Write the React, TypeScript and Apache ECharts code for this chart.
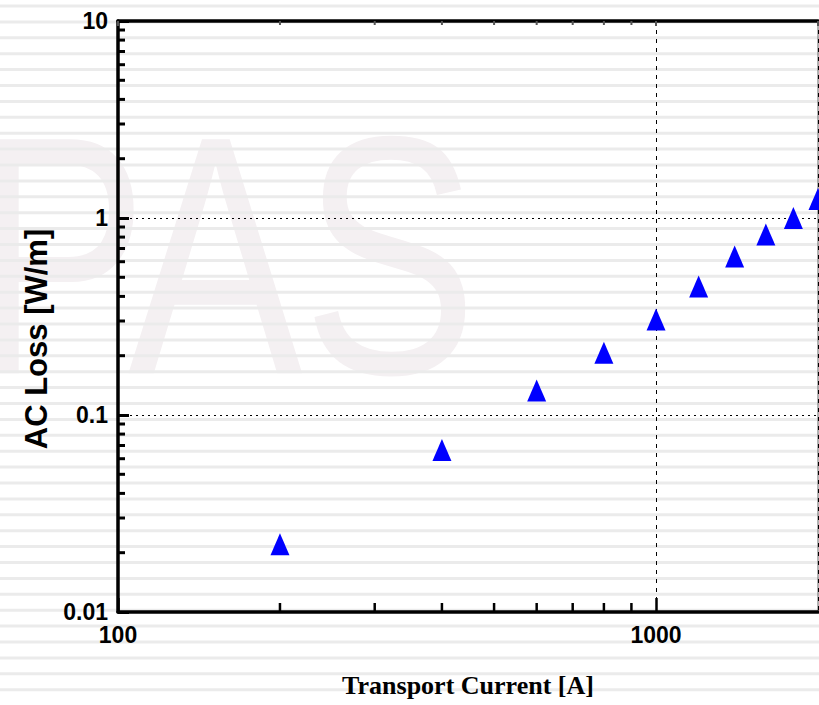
import React, { useEffect, useRef } from "react";
import * as echarts from "echarts";

// ---- data ----
const transportCurrent = [200, 400, 600, 800, 1000, 1200, 1400, 1600, 1800, 2000];
const acLoss = [0.0221, 0.0664, 0.133, 0.207, 0.305, 0.449, 0.638, 0.824, 1.0, 1.25];

// axis tick labels / tick positions
const xTickLabels = [100, 1000];
const yTickLabels = [0.01, 0.1, 1, 10];
const xMinorTicks = [200, 300, 400, 500, 600, 700, 800, 900];
const yMinorTicks = [
  0.02, 0.03, 0.04, 0.05, 0.06, 0.07, 0.08, 0.09,
  0.2, 0.3, 0.4, 0.5, 0.6, 0.7, 0.8, 0.9,
  2, 3, 4, 5, 6, 7, 8, 9,
];

const LABEL_FONT = '"Liberation Sans", Arial, sans-serif';

function fmt(list: number[]) {
  return (v: number) => {
    const hit = list.find((t) => Math.abs(Math.log10(t) - Math.log10(v)) < 1e-6);
    return hit === undefined ? "" : String(hit);
  };
}

function buildStripes() {
  const out: any[] = [];
  for (let y = 6; y < 705; y += 15.9) {
    out.push({
      type: "rect",
      z: -1,
      silent: true,
      shape: { x: 0, y: y - 1.5, width: 819, height: 3 },
      style: { fill: "#ebebeb" },
    });
  }
  return out;
}

export default function App() {
  const ref = useRef<HTMLDivElement>(null);
  useEffect(() => {
    document.body.style.margin = "0";
    const chart = echarts.init(ref.current!, null, { renderer: "svg" });
    const option: any = {
      animation: false,
      backgroundColor: "#ffffff",
      graphic: [
        {
          type: "text",
          z: -2,
          silent: true,
          x: 225,
          y: 255,
          scaleX: 0.77,
          style: {
            text: "PAS",
            x: 0,
            y: 0,
            font: 'normal 340px "Liberation Sans", sans-serif',
            fill: "#f4f0f2",
            align: "center",
            verticalAlign: "middle",
          },
        },
        ...buildStripes(),
      ],
      grid: {
        left: 118,
        top: 21,
        right: 1,
        bottom: 93,
        show: true,
        borderColor: "#666",
        borderWidth: 1,
        backgroundColor: "transparent",
      },
      xAxis: [
        {
          type: "log",
          logBase: 10,
          min: 100,
          max: 2000,
          position: "bottom",
          axisLine: { show: true, onZero: false, lineStyle: { color: "#000", width: 3.5 } },
          axisTick: { show: true, inside: true, length: 14, lineStyle: { color: "#000", width: 2.5 } },
          axisLabel: {
            show: true,
            margin: 11,
            color: "#000",
            fontFamily: LABEL_FONT,
            fontWeight: "bold",
            fontSize: 23,
            showMaxLabel: false,
            formatter: fmt(xTickLabels),
          },
          splitLine: { show: true, lineStyle: { color: "#000", width: 1, type: [4, 5] } },
          name: "Transport Current [A]",
          nameLocation: "middle",
          nameGap: 60,
          nameTextStyle: {
            fontFamily: '"Liberation Serif", serif',
            fontWeight: "bold",
            fontSize: 26,
            color: "#000",
          },
        },
        {
          type: "log",
          logBase: 10,
          min: 100,
          max: 2000,
          position: "top",
          axisLine: { show: true, lineStyle: { color: "#000", width: 3.5 } },
          axisTick: { show: true, inside: true, length: 5, lineStyle: { color: "#555", width: 2 } },
          axisLabel: { show: false },
          splitLine: { show: false },
        },
      ],
      yAxis: {
        type: "log",
        logBase: 10,
        min: 0.01,
        max: 10,
        axisLine: { show: true, onZero: false, lineStyle: { color: "#000", width: 3.5 } },
        axisTick: { show: true, inside: true, length: 11, lineStyle: { color: "#000", width: 3 } },
        axisLabel: {
          show: true,
          margin: 10,
          color: "#000",
          fontFamily: LABEL_FONT,
          fontWeight: "bold",
          fontSize: 23,
          formatter: fmt(yTickLabels),
        },
        splitLine: { show: true, lineStyle: { color: "#000", width: 1, type: [2, 4] } },
        name: "AC Loss [W/m]",
        nameLocation: "middle",
        nameGap: 66,
        nameRotate: 90,
        nameTextStyle: {
          fontFamily: '"Liberation Sans", Arial, sans-serif',
          fontWeight: "bold",
          fontSize: 31,
          color: "#000",
          padding: [0, 45, 0, 0],
        },
      },
      series: [
        {
          type: "custom",
          silent: true,
          z: 3,
          xAxisIndex: 0,
          yAxisIndex: 0,
          data: xMinorTicks.map((v) => [v, 0.01]),
          renderItem: (params: any, api: any) => {
            const v = api.value(0);
            const pb = api.coord([v, 0.01]);
            const pt = api.coord([v, 10]);
            return {
              type: "group",
              children: [
                {
                  type: "line",
                  shape: { x1: pb[0], y1: pb[1], x2: pb[0], y2: pb[1] - 9 },
                  style: { stroke: "#000", lineWidth: 2.5 },
                },
                {
                  type: "line",
                  shape: { x1: pt[0], y1: pt[1], x2: pt[0], y2: pt[1] + 4 },
                  style: { stroke: "#555", lineWidth: 2 },
                },
              ],
            };
          },
        },
        {
          type: "custom",
          silent: true,
          z: 3,
          xAxisIndex: 0,
          yAxisIndex: 0,
          data: yMinorTicks.map((v) => [100, v]),
          renderItem: (params: any, api: any) => {
            const v = api.value(1);
            const p = api.coord([100, v]);
            return {
              type: "line",
              shape: { x1: p[0], y1: p[1], x2: p[0] + 7, y2: p[1] },
              style: { stroke: "#000", lineWidth: 3 },
            };
          },
        },
        {
          type: "scatter",
          xAxisIndex: 0,
          yAxisIndex: 0,
          z: 5,
          clip: false,
          symbol: "triangle",
          symbolSize: [19, 22],
          itemStyle: { color: "#0000ff", opacity: 1 },
          data: transportCurrent.map((x, i) => [x, acLoss[i]]),
        },
      ],
    };
    chart.setOption(option);
    return () => chart.dispose();
  }, []);
  return <div ref={ref} style={{ width: 819, height: 705 }} />;
}
